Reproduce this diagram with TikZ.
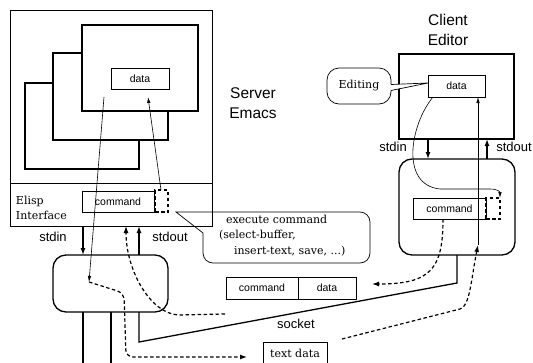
\documentclass[tikz,border=0pt]{standalone}
\usepackage{fontspec}
\setmainfont{DejaVu Serif}
\setsansfont{Liberation Sans}
\usetikzlibrary{arrows.meta}
\newcommand\smallsans{\sffamily\fontsize{10.5}{12}\selectfont}
\newcommand\labsans{\sffamily\fontsize{13}{15}\selectfont}
\newcommand\titlesans{\sffamily\fontsize{15.5}{19.5}\selectfont}
\newcommand\serifsz{\fontsize{11}{15.5}\selectfont}
\begin{document}
\begin{tikzpicture}[x=1pt,y=-1pt,
  every node/.style={inner sep=0pt, outer sep=0pt},
  heavy/.style={line width=1.3pt},
  light/.style={line width=0.7pt},
  win/.style={draw, heavy, fill=white, anchor=north west},
  tbox/.style={draw, light, anchor=north west, font=\smallsans},
  hub/.style={draw, heavy, rounded corners=13pt, anchor=north west},
  dsh/.style={line width=1.2pt, dash pattern=on 3.5pt off 2.5pt},
  bigarrow/.style={heavy, -{Latex[length=7pt,width=5pt]}},
  thinarrow/.style={line width=0.6pt, -{Latex[length=6pt,width=3.5pt]}},
  dasharrow/.style={dsh, -{Latex[length=7pt,width=5pt]}},
  lab/.style={font=\labsans},
]
\useasboundingbox (0,0) rectangle (533,362);

% ---------------- server side ----------------
\node[draw, line width=0.9pt, anchor=north west, minimum width=202pt, minimum height=216pt] (server) at (10,10) {};
\draw[line width=0.9pt] (server.west |- 0,183) -- (server.east |- 0,183);

\node[win, minimum width=114pt, minimum height=86pt] (w3) at (25,83) {};
\node[win, minimum width=115pt, minimum height=87pt] (w2) at (53,53) {};
\node[win, minimum width=116pt, minimum height=86pt] (w1) at (82,25) {};
\node[tbox, minimum width=58pt, minimum height=21pt] (sdata) at (111,68) {data};

\node[font=\titlesans, align=center] (stitle) at (253,103) {Server\\Emacs};

\node[font=\serifsz, align=left, anchor=west] (elisp) at (16,208) {Elisp\\Interface};
\node[tbox, minimum width=72pt, minimum height=21pt] (scmd) at (82,191) {command};
\node[draw, dsh, anchor=north west, minimum width=13pt, minimum height=22pt] (sdash) at (155,190) {};

\node[hub, minimum width=115pt, minimum height=57pt] (shub) at (53,255) {};

\draw[bigarrow] (83,0 |- server.south) -- (83,0 |- shub.north);
\draw[bigarrow] (139,0 |- shub.north) -- (139,0 |- server.south);
\node[lab] (sin) at (53,237) {stdin};
\node[lab] (sout) at (170,237) {stdout};

\coordinate (wa) at (104,97);
\coordinate (wb) at (148,97);
\coordinate (hp) at (89,282);
\draw[thinarrow] (wa) -- (hp);
\draw[thinarrow] (161,0 |- sdash.north) -- (wb);

\draw[heavy] (83,0 |- shub.south) -- (83,366);
\draw[heavy] (111,0 |- shub.south) -- (111,366);

% execute callout
\draw[light] (176,212) -- (360,212) .. controls (365.5,212) and (370,216.5) .. (370,222)
  -- (370,253) .. controls (370,258.5) and (365.5,263) .. (360,263)
  -- (213,263) .. controls (207.5,263) and (203,258.5) .. (203,253) -- (203,233) -- cycle;
\node[font=\serifsz, align=left, anchor=north west] (exec) at (219,215)
  {\hspace*{7pt}execute command\\(select-buffer,\\\hspace*{15pt}insert-text, save, ...)};

% packet and text data
\node[tbox, minimum width=72pt, minimum height=22pt] (pcmd) at (226,277) {command};
\node[tbox, minimum width=58pt, minimum height=22pt] (pdat) at (298,277) {data};
\node[draw, light, anchor=north west, minimum width=64pt, minimum height=22pt, font=\serifsz] (tdata) at (263,342) {text data};
\node[lab] (sock) at (296,324) {socket};

% ---------------- client side ----------------
\node[font=\titlesans, align=center] (ctitle) at (448,30) {Client\\Editor};
\node[win, minimum width=115pt, minimum height=85pt] (ced) at (399,54) {};
\node[tbox, minimum width=57pt, minimum height=22pt] (cdata) at (428,75) {data};
\node[draw, light, fill=white, rounded corners=12pt, anchor=north west, minimum width=64pt, minimum height=36pt, font=\serifsz] (editing) at (327,68) {Editing};
\fill[white] (390,84.5) -- (cdata.west |- 0,83) -- (390,90.5) -- cycle;
\draw[light] (editing.east |- 0,84.5) -- (cdata.west |- 0,83) -- (editing.east |- 0,90.5);

\node[hub, minimum width=116pt, minimum height=96pt] (chub) at (399,159) {};
\node[tbox, minimum width=73pt, minimum height=21pt] (ccmd) at (413,198) {command};
\node[draw, dsh, anchor=north west, minimum width=14pt, minimum height=21pt] (cdash) at (486,198) {};

\draw[bigarrow] (428,0 |- ced.south) -- (428,0 |- chub.north);
\draw[bigarrow] (487,0 |- chub.north) -- (487,0 |- ced.south);
\node[lab] (cin) at (393,147) {stdin};
\node[lab] (cout) at (514,147) {stdout};

\draw[thinarrow] (433,0 |- cdata.south) .. controls (410,125) and (400,185) .. (440,189)
  -- (490,189) .. controls (498,189) and (500,192) .. (500,0 |- cdash.north);

\coordinate (cta) at (478,245);
\draw[thinarrow] (cta) -- (478,0 |- cdata.south);

% socket line
\draw[heavy] (139,0 |- shub.south) -- (139,342) -- (457,283) -- (457,0 |- chub.south);

% dashed flows
\coordinate (tda) at (247,357);
\coordinate (tdb) at (342,339);
\coordinate (pka) at (372,284);
\coordinate (pkb) at (225,314);
\draw[dasharrow, rounded corners=7pt] (hp) -- (124,293) -- (126,357) -- (tda);
\draw[dasharrow] (tdb) -- (460,309) .. controls (470,306) and (471,280) .. (cta);
\draw[dasharrow] (443,0 |- ccmd.south) .. controls (443,270) and (430,284) .. (pka);
\draw[dasharrow] (pkb) -- (178,315) .. controls (150,313) and (126,270) .. (126,0 |- server.south);
\end{tikzpicture}
\end{document}
